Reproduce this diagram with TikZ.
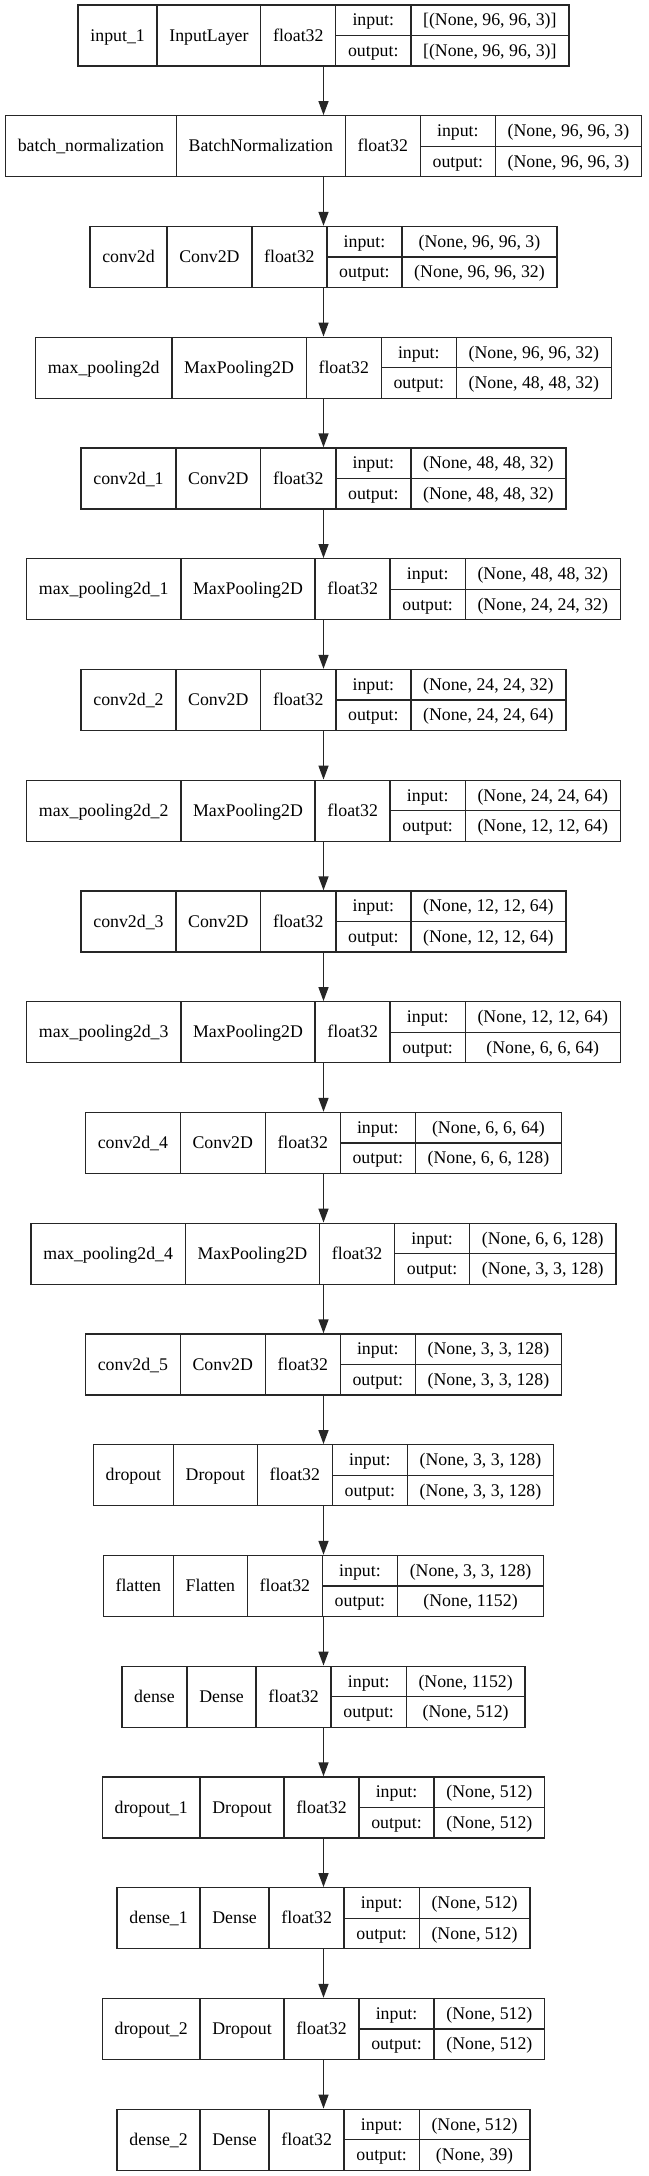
\documentclass[tikz,border=0pt]{standalone}
\usepackage{fontspec}
\setmainfont{Liberation Serif}
\usetikzlibrary{arrows.meta}
\newlength\cwA \newlength\cwB \newlength\cwC \newlength\cwD \newlength\cwE \newlength\cwF \newlength\cwT
\newcommand\lfont{\fontsize{17.8}{20}\selectfont}
\newcommand\cellpad{24.6pt}
\tikzset{
  boxline/.style={draw=black!85, line width=1.4pt},
  celltext/.style={anchor=base, inner sep=0pt, font=\lfont},
  arr/.style={draw=black!85, line width=1.4pt, -{Triangle[length=14pt,width=10pt]}}
}
\newcommand\storeval[3]{\expandafter\xdef\csname r#1@#2\endcsname{#3}}
\newcommand\getval[2]{\csname r#1@#2\endcsname}
\newcommand\layerrow[5]{%
  \settowidth\cwA{\lfont #2}\addtolength\cwA{\cellpad}%
  \settowidth\cwB{\lfont #3}\addtolength\cwB{\cellpad}%
  \settowidth\cwC{\lfont float32}\addtolength\cwC{\cellpad}%
  \settowidth\cwD{\lfont output:}\addtolength\cwD{\cellpad}%
  \settowidth\cwE{\lfont #4}\settowidth\cwF{\lfont #5}%
  \ifdim\cwF>\cwE \cwE=\cwF\fi
  \addtolength\cwE{\cellpad}%
  \cwT=\cwA \advance\cwT by \cwB \advance\cwT by \cwC \advance\cwT by \cwD \advance\cwT by \cwE
  \pgfmathsetmacro\xA{323.5-0.5*\cwT}\storeval{#1}{A}{\xA}%
  \pgfmathsetmacro\xB{\xA+\cwA}\storeval{#1}{B}{\xB}%
  \pgfmathsetmacro\xC{\xB+\cwB}\storeval{#1}{C}{\xC}%
  \pgfmathsetmacro\xD{\xC+\cwC}\storeval{#1}{D}{\xD}%
  \pgfmathsetmacro\xE{\xD+\cwD}\storeval{#1}{E}{\xE}%
  \pgfmathsetmacro\xF{\xA+\cwT}\storeval{#1}{F}{\xF}%
  \storeval{#1}{W}{\the\cwT}%
  \expandafter\gdef\csname r#1@n\endcsname{#2}%
  \expandafter\gdef\csname r#1@c\endcsname{#3}%
  \expandafter\gdef\csname r#1@i\endcsname{#4}%
  \expandafter\gdef\csname r#1@o\endcsname{#5}%
}
\newcommand\drawrow[1]{%
  \edef\xA{\getval{#1}{A}}\edef\xB{\getval{#1}{B}}\edef\xC{\getval{#1}{C}}%
  \edef\xD{\getval{#1}{D}}\edef\xE{\getval{#1}{E}}\edef\xF{\getval{#1}{F}}%
  \edef\wT{\getval{#1}{W}}%
  \pgfmathsetmacro\ytop{-5-110.75*#1}%
  \pgfmathsetmacro\ybot{\ytop-61}%
  \pgfmathsetmacro\ymid{\ytop-30.5}%
  \node[boxline, minimum width=\wT, minimum height=61pt, inner sep=0pt] (L#1) at (323.5,\ymid) {};
  \draw[boxline] (\xB,\ytop) -- (\xB,\ybot) (\xC,\ytop) -- (\xC,\ybot) (\xD,\ytop) -- (\xD,\ybot)
     (\xE,\ytop) -- (\xE,\ybot) (\xD,\ymid) -- (\xF,\ymid);
  \node[celltext] (L#1name) at ({(\xA+\xB)/2},\ymid-5.5) {\getval{#1}{n}};
  \node[celltext] (L#1cls) at ({(\xB+\xC)/2},\ymid-5.5) {\getval{#1}{c}};
  \node[celltext] (L#1dt) at ({(\xC+\xD)/2},\ymid-5.5) {float32};
  \node[celltext] (L#1inl) at ({(\xD+\xE)/2},\ymid+15.25-5.5) {input:};
  \node[celltext] (L#1outl) at ({(\xD+\xE)/2},\ymid-15.25-5.5) {output:};
  \node[celltext] (L#1in) at ({(\xE+\xF)/2},\ymid+15.25-5.5) {\getval{#1}{i}};
  \node[celltext] (L#1out) at ({(\xE+\xF)/2},\ymid-15.25-5.5) {\getval{#1}{o}};
}
\begin{document}
\layerrow{0}{input\_1}{InputLayer}{[(None, 96, 96, 3)]}{[(None, 96, 96, 3)]}%
\layerrow{1}{batch\_normalization}{BatchNormalization}{(None, 96, 96, 3)}{(None, 96, 96, 3)}%
\layerrow{2}{conv2d}{Conv2D}{(None, 96, 96, 3)}{(None, 96, 96, 32)}%
\layerrow{3}{max\_pooling2d}{MaxPooling2D}{(None, 96, 96, 32)}{(None, 48, 48, 32)}%
\layerrow{4}{conv2d\_1}{Conv2D}{(None, 48, 48, 32)}{(None, 48, 48, 32)}%
\layerrow{5}{max\_pooling2d\_1}{MaxPooling2D}{(None, 48, 48, 32)}{(None, 24, 24, 32)}%
\layerrow{6}{conv2d\_2}{Conv2D}{(None, 24, 24, 32)}{(None, 24, 24, 64)}%
\layerrow{7}{max\_pooling2d\_2}{MaxPooling2D}{(None, 24, 24, 64)}{(None, 12, 12, 64)}%
\layerrow{8}{conv2d\_3}{Conv2D}{(None, 12, 12, 64)}{(None, 12, 12, 64)}%
\layerrow{9}{max\_pooling2d\_3}{MaxPooling2D}{(None, 12, 12, 64)}{(None, 6, 6, 64)}%
\layerrow{10}{conv2d\_4}{Conv2D}{(None, 6, 6, 64)}{(None, 6, 6, 128)}%
\layerrow{11}{max\_pooling2d\_4}{MaxPooling2D}{(None, 6, 6, 128)}{(None, 3, 3, 128)}%
\layerrow{12}{conv2d\_5}{Conv2D}{(None, 3, 3, 128)}{(None, 3, 3, 128)}%
\layerrow{13}{dropout}{Dropout}{(None, 3, 3, 128)}{(None, 3, 3, 128)}%
\layerrow{14}{flatten}{Flatten}{(None, 3, 3, 128)}{(None, 1152)}%
\layerrow{15}{dense}{Dense}{(None, 1152)}{(None, 512)}%
\layerrow{16}{dropout\_1}{Dropout}{(None, 512)}{(None, 512)}%
\layerrow{17}{dense\_1}{Dense}{(None, 512)}{(None, 512)}%
\layerrow{18}{dropout\_2}{Dropout}{(None, 512)}{(None, 512)}%
\layerrow{19}{dense\_2}{Dense}{(None, 512)}{(None, 39)}%
\begin{tikzpicture}[x=1pt,y=1pt]
\fill[white] (0,0) rectangle (648,-2176);
\useasboundingbox (0,0) rectangle (648,-2176);
\foreach \i in {0,...,19} {\drawrow{\i}}
\foreach \i [evaluate=\i as \j using int(\i+1)] in {0,...,18} {
  \draw[arr] (L\i.south) -- (L\j.north);
}
\end{tikzpicture}
\end{document}
